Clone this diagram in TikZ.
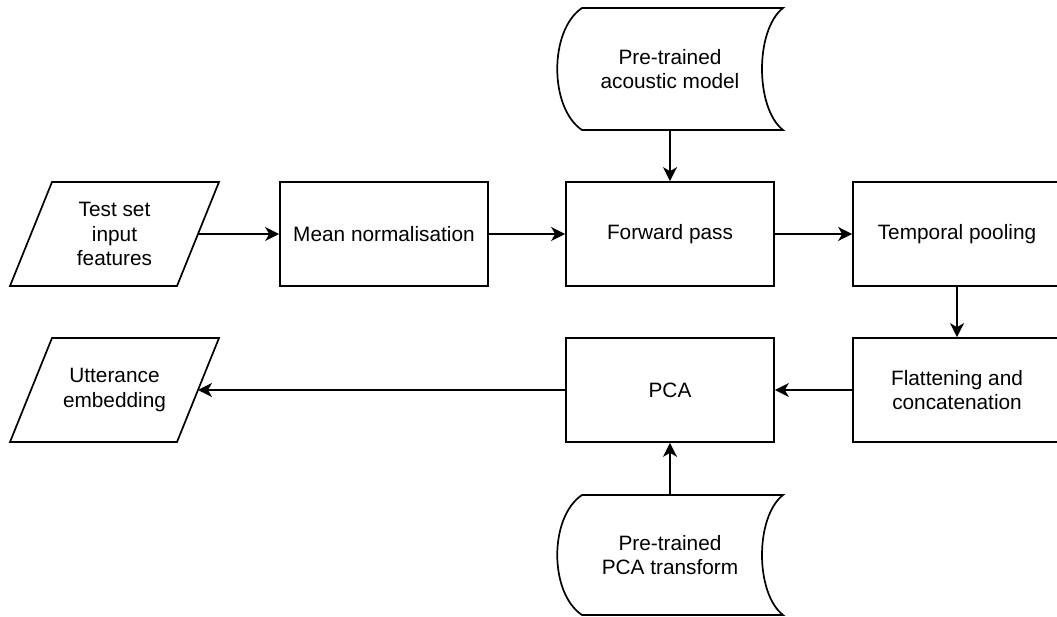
\documentclass[tikz,border=0pt]{standalone}
\usepackage{fontspec}
\setmainfont{Liberation Sans}
\usetikzlibrary{arrows.meta}
\begin{document}
\begin{tikzpicture}[x=1pt,y=-1pt,line width=1.7pt,
  txt/.style={font=\fontsize{20.8}{24.7}\selectfont,align=center,inner sep=0pt},
  procbox/.style={txt,draw,minimum width=208pt,minimum height=104pt},
  area/.style={txt,minimum width=209pt,minimum height=104pt},
  flow/.style={-{Stealth[length=14pt,width=14pt,inset=4pt]}}]
\useasboundingbox (0,0) rectangle (1057,617);

% process steps
\node[procbox] (mean)  at (384,234) {Mean normalisation};
\node[procbox] (fwd)   at (670,234) {Forward pass};
\node[procbox] (pool)  at (957,234) {Temporal pooling};
\node[procbox] (flat)  at (957,390) {Flattening and\\concatenation};
\node[procbox] (pca)   at (670,390) {PCA};

% input / output parallelograms
\node[area] (input) at (114.5,234) {Test set\\input\\features};
\draw (52,182) -- (219,182) -- (177,286) -- (10,286) -- cycle;
\coordinate (input-r) at (198,234);

\node[area] (embed) at (114.5,390) {Utterance\\embedding};
\draw (52,338) -- (219,338) -- (177,442) -- (10,442) -- cycle;
\coordinate (embed-r) at (198,390);

% stored data shapes
\node[txt,minimum width=226pt,minimum height=122pt] (acoustic) at (670,69) {Pre-trained\\acoustic model};
\draw (582,8) -- (783,8)
  .. controls (755,30) and (755,108) .. (783,130)
  -- (582,130)
  .. controls (549,108) and (549,30) .. (582,8) -- cycle;

\node[txt,minimum width=226pt,minimum height=120pt] (pcat) at (670,555) {Pre-trained\\PCA transform};
\draw (582,495) -- (783,495)
  .. controls (755,517) and (755,593) .. (783,615)
  -- (582,615)
  .. controls (549,593) and (549,517) .. (582,495) -- cycle;

% connectors
\draw[flow] (input-r) -- (mean);
\draw[flow] (mean) -- (fwd);
\draw[flow] (fwd) -- (pool);
\draw[flow] (acoustic.south) -- (fwd.north);
\draw[flow] (pool) -- (flat);
\draw[flow] (flat) -- (pca);
\draw[flow] (pcat.north) -- (pca.south);
\draw[flow] (pca) -- (embed-r);
\end{tikzpicture}
\end{document}
